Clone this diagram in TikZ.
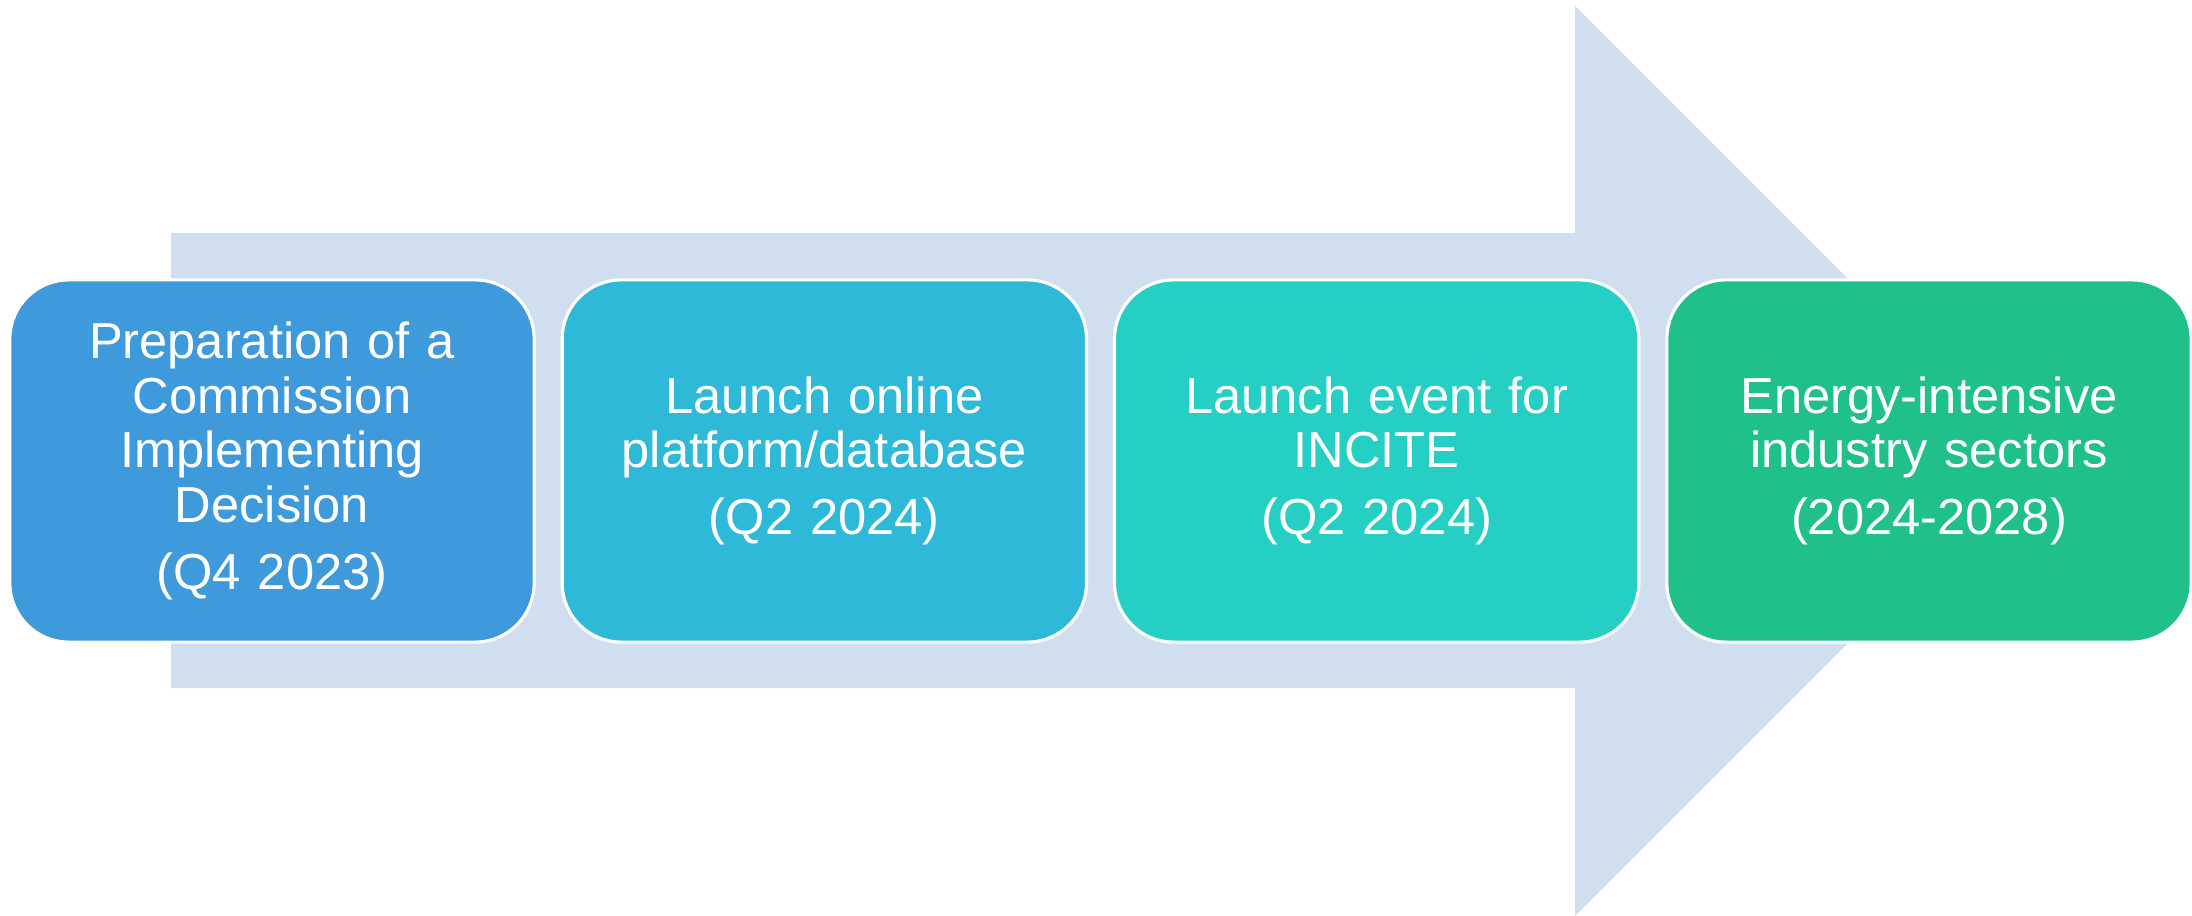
\documentclass[tikz,border=0pt]{standalone}
\usepackage{fontspec}
\setmainfont{Liberation Sans}[WordSpace=0.6]
\usepackage{xcolor}
\usetikzlibrary{positioning}

\definecolor{arrowbg}{RGB}{207,223,240}
\definecolor{stepa}{RGB}{63,154,219}
\definecolor{stepb}{RGB}{46,185,216}
\definecolor{stepc}{RGB}{37,207,196}
\definecolor{stepd}{RGB}{32,192,138}

\tikzset{
  stagebox/.style={draw=white, line width=0.9pt, rounded corners=0.59cm,
    minimum width=5.24cm, minimum height=3.62cm, text width=5.1cm,
    align=center, text=white, font=\fontsize{14.4}{15.5}\selectfont,
    inner sep=0pt, outer sep=0pt}
}

\begin{document}
\begin{tikzpicture}[x=0.01cm,y=-0.01cm]
						\useasboundingbox (0,0) rectangle (2192,916);
						
						% big arrow behind the stages
						\coordinate (T) at (2030,461);
						\fill[arrowbg] (171,233) -- (1575,233) -- (1575,6) -- (T)
							-- (1575,916) -- (1575,688) -- (171,688) -- cycle;
						
						\node[stagebox, fill=stepa] (prep) at (272,461)
							{Preparation of a\\Commission\\Implementing\\Decision\\[3.5pt](Q4 2023)};
						\node[stagebox, fill=stepb, right=0.28cm of prep] (platform)
							{Launch online\\platform/database\\[3.5pt](Q2 2024)};
						\node[stagebox, fill=stepc, right=0.28cm of platform] (event)
							{Launch event for\\INCITE\\[3.5pt](Q2 2024)};
						\node[stagebox, fill=stepd, right=0.28cm of event] (sectors)
							{Energy-intensive\\industry sectors\\[3.5pt](2024-2028)};
					\end{tikzpicture}
\end{document}
